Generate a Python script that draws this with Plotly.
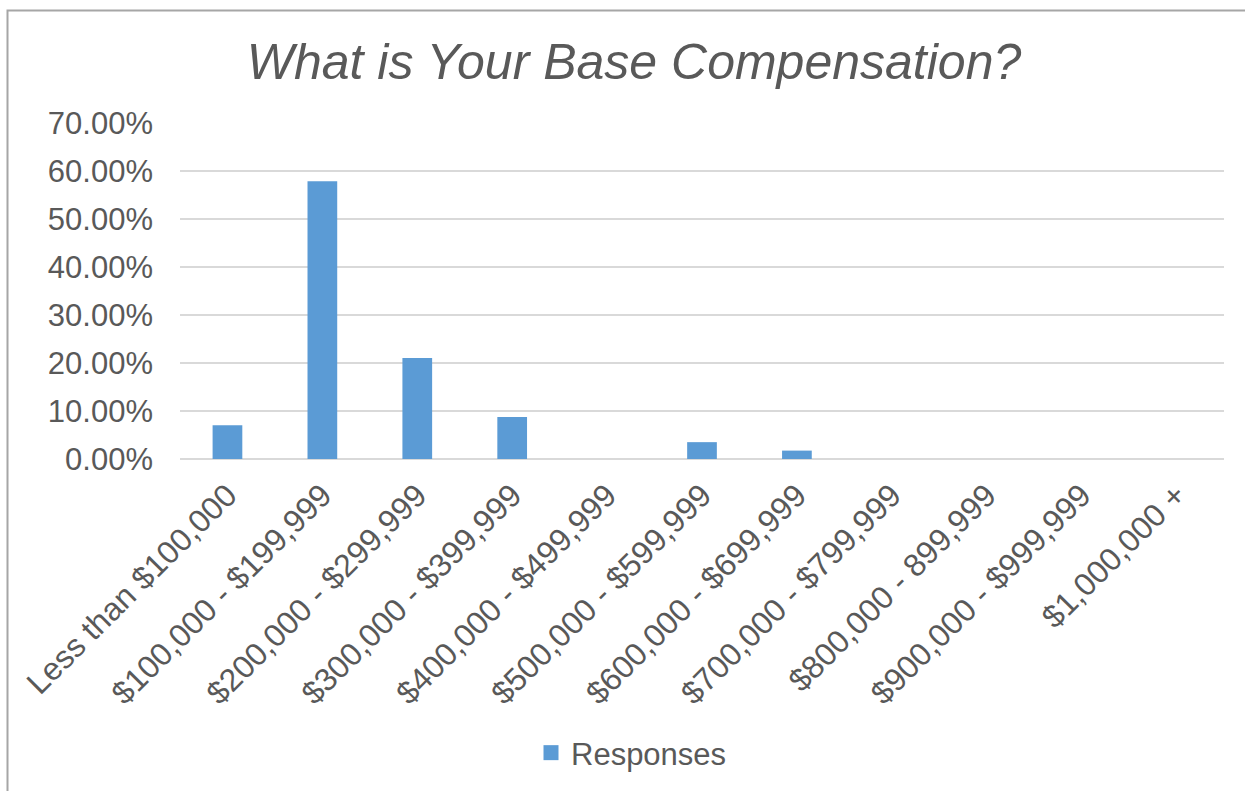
import plotly.graph_objects as go

# Survey responses: share of respondents per base-compensation band
categories = [
    "Less than $100,000",
    "$100,000 - $199,999",
    "$200,000 - $299,999",
    "$300,000 - $399,999",
    "$400,000 - $499,999",
    "$500,000 - $599,999",
    "$600,000 - $699,999",
    "$700,000 - $799,999",
    "$800,000 - 899,999",
    "$900,000 - $999,999",
    "$1,000,000 +",
]
responses = [0.0702, 0.5789, 0.2105, 0.0877, 0.0, 0.0351, 0.0175, 0.0, 0.0, 0.0, 0.0]

y_ticks = [0.0, 0.1, 0.2, 0.3, 0.4, 0.5, 0.6, 0.7]

FONT = "Liberation Sans, Arial, sans-serif"
TEXT = "#595959"
GRID = "#d9d9d9"
BAR = "#5b9bd5"

W, H = 1245, 791
ML, MR, MT, MB = 180, 21, 123, 332
PW, PH = W - ML - MR, H - MT - MB

fig = go.Figure()
fig.add_trace(go.Bar(
    x=categories,
    y=responses,
    name="Responses",
    marker=dict(color=BAR, line=dict(width=0)),
    width=0.313,
    showlegend=False,
))
# legend entry with a larger square swatch
fig.add_trace(go.Scatter(
    x=[None], y=[None],
    mode="markers",
    name="Responses",
    marker=dict(symbol="square", size=15, color=BAR),
    showlegend=True,
))

# outer chart frame (left and top edges visible)
def px_x(p):
    return (p - ML) / PW

def px_y(p):
    return (H - MB - p) / PH

fig.add_shape(
    type="rect", xref="paper", yref="paper",
    x0=px_x(7.5), x1=px_x(W + 20), y0=px_y(10.5), y1=px_y(H + 20),
    line=dict(color="#a6a6a6", width=2), fillcolor="rgba(0,0,0,0)",
    layer="below",
)

fig.update_layout(
    width=W, height=H,
    margin=dict(l=ML, r=MR, t=MT, b=MB, autoexpand=False),
    paper_bgcolor="white", plot_bgcolor="white",
    font=dict(family=FONT, color=TEXT, size=31),
    title=dict(
        text="<i>What is Your Base Compensation?</i>",
        font=dict(family=FONT, size=50, color=TEXT),
        x=634 / W, xref="container", xanchor="center",
        y=1 - 61 / H, yref="container", yanchor="middle",
    ),
    showlegend=True,
    legend=dict(
        orientation="h",
        x=531 / W, xref="container", xanchor="left",
        y=1 - 753 / H, yref="container", yanchor="middle",
        font=dict(family=FONT, size=31, color=TEXT),
        bgcolor="rgba(0,0,0,0)",
    ),
    bargap=0.687,
)

fig.update_xaxes(
    type="category",
    tickangle=-45,
    tickfont=dict(family=FONT, size=32, color=TEXT),
    showgrid=False, showline=False, zeroline=False,
    ticks="",
    ticklabelstandoff=10,
)
fig.update_yaxes(
    range=[0, 0.7],
    tickvals=y_ticks,
    tickformat=".2%",
    tickfont=dict(family=FONT, size=31, color=TEXT),
    showgrid=True, gridcolor=GRID, gridwidth=1.5,
    zeroline=True, zerolinecolor=GRID, zerolinewidth=1.5,
    showline=False, ticks="",
    ticklabelstandoff=26,
)

fig.write_html("out.html")
